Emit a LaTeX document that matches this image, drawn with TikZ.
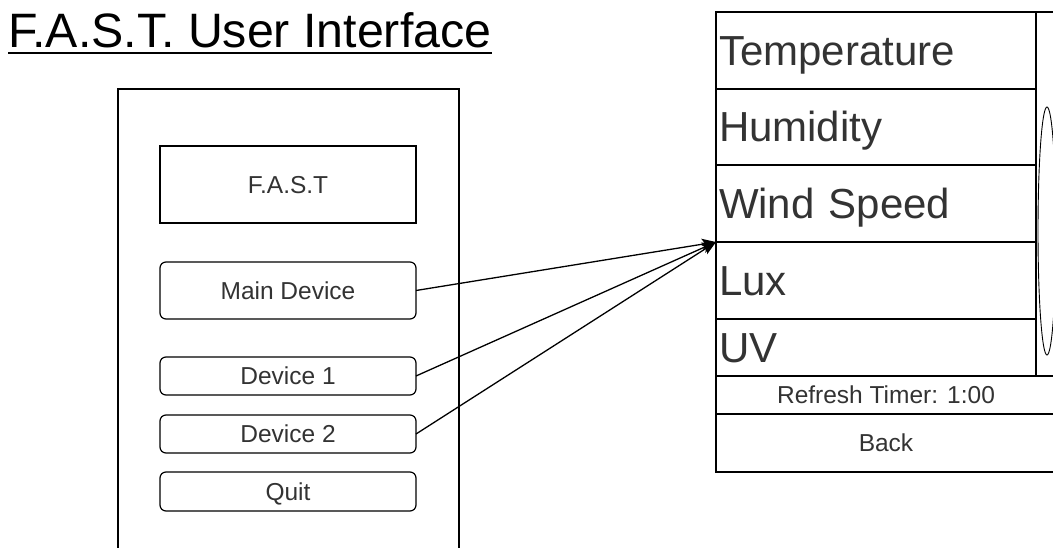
\documentclass[tikz,border=0pt]{standalone}
\usepackage{fontspec}
\setmainfont{Liberation Sans}
\usetikzlibrary{arrows.meta,positioning}

\begin{document}
\begin{tikzpicture}[x=1pt,y=-1pt,
    screen/.style={draw, line width=1.2pt, outer sep=0pt},
    box/.style={draw, line width=1.2pt, outer sep=0pt, minimum width=256pt, inner ysep=1pt,
        text height=17.5pt, text depth=0pt, text=black!80, font=\fontsize{24.5}{29}\selectfont},
    button/.style={box, rounded corners=6pt},
    row/.style={draw, line width=1.2pt, outer sep=0pt, anchor=north west, minimum width=320pt, text width=314pt,
        inner xsep=3pt, inner ysep=2pt, align=left, text height=30pt, text depth=0pt,
        text=black!80, font=\fontsize{42}{50}\selectfont},
    bar/.style={box, anchor=north west, minimum width=340pt},
    link/.style={line width=1.3pt, -{Stealth[length=14pt,width=11pt,inset=3pt]}}]
    \useasboundingbox (0,0) rectangle (1053,548);

    % Title
    \node[anchor=base west, inner sep=0pt, font=\fontsize{48.3}{58}\selectfont] (title) at (8,48) {F.A.S.T. User Interface};
    \draw[line width=2.2pt] ([yshift=-5pt]title.base west) -- ([yshift=-5pt]title.base east);

    % Main menu screen
    \node[screen, anchor=north west, minimum width=341pt, minimum height=475pt] (menu) at (118,89) {};
    \node[box, minimum height=77pt] (logo) at (288,184.5) {F.A.S.T};
    \node[button, minimum height=57pt, below=39pt of logo] (main) {Main Device};
    \node[button, minimum height=38pt, below=38pt of main] (dev1) {Device 1};
    \node[button, minimum height=38pt, below=20pt of dev1] (dev2) {Device 2};
    \node[button, minimum height=39pt, below=19pt of dev2] (quit) {Quit};

    % Sensor screen
    \node[row, minimum height=77pt] (temp) at (716,12) {Temperature};
    \node[row, minimum height=76pt, below=0pt of temp] (hum) {Humidity};
    \node[row, minimum height=77pt, below=0pt of hum] (wind) {Wind Speed};
    \node[row, minimum height=77pt, below=0pt of wind] (lux) {Lux};
    \node[row, minimum height=57pt, below=0pt of lux] (uv) {UV};
    \node[bar, minimum height=38pt] (timer) at (uv.south west) {Refresh Timer: 1:00};
    \node[bar, minimum height=58pt] (back) at (timer.south west) {Back};
    \draw[screen] (temp.north east) rectangle (timer.north east);
    \draw[line width=0.9pt] (1047,231) ellipse [x radius=9, y radius=124];

    % Links
    \coordinate (hub) at (lux.north west);
    \draw[link] (main.east) -- (hub);
    \draw[link] (dev1.east) -- (hub);
    \draw[link] (dev2.east) -- (hub);
\end{tikzpicture}
\end{document}
